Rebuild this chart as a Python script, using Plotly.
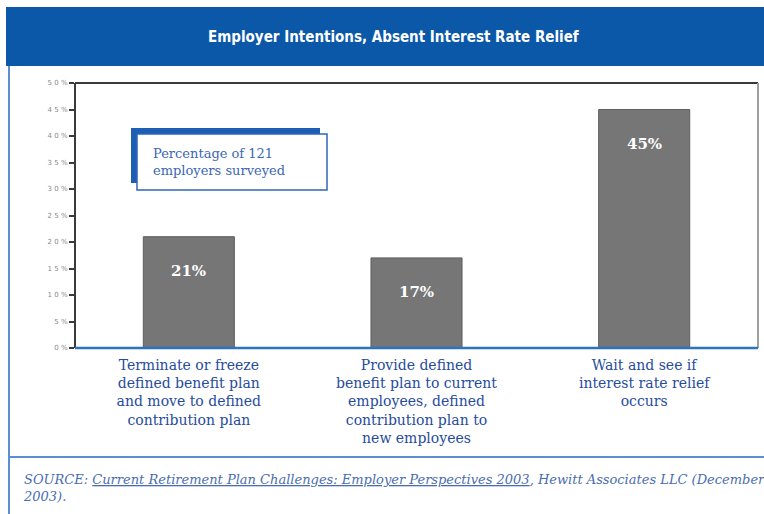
import plotly.graph_objects as go

# ---- data ----
categories = [
    "Terminate or freeze<br>defined benefit plan<br>and move to defined<br>contribution plan",
    "Provide defined<br>benefit plan to current<br>employees, defined<br>contribution plan to<br>new employees",
    "Wait and see if<br>interest rate relief<br>occurs",
]
values = [21, 17, 45]
value_labels = ["21%", "17%", "45%"]
tick_vals = [0, 5, 10, 15, 20, 25, 30, 35, 40, 45, 50]
tick_text = ["0 %", "5 %", "1 0 %", "1 5 %", "2 0 %", "2 5 %", "3 0 %", "3 5 %", "4 0 %", "4 5 %", "5 0 %"]
title_text = "Employer Intentions, Absent Interest Rate Relief"
note_text = "Percentage of 121<br>employers surveyed"
source_text = ("SOURCE: <u>Current Retirement Plan Challenges: Employer Perspectives 2003</u>, "
               "Hewitt Associates LLC (December<br>2003).")

# ---- geometry (pixels in the page) ----
FW, FH = 764, 514
L, R, T, B = 75, 758, 83, 348
PW, PH = R - L, B - T

def xp(px):
    return (px - L) / PW

def yp(py):
    return (B - py) / PH

HEADER = "#0B58A8"
BLUE_TXT = "#264C9C"
SERIF = "DejaVu Serif, Liberation Serif, serif"

fig = go.Figure()
fig.add_trace(go.Bar(
    x=categories, y=values,
    width=0.4,
    marker=dict(color="#767676", line=dict(color="#5E5E5E", width=1)),
    hoverinfo="skip",
))

shapes = [
    dict(type="rect", xref="paper", yref="paper", x0=xp(6), x1=xp(775), y0=yp(66), y1=yp(7),
         fillcolor=HEADER, line=dict(width=0), layer="below"),
    dict(type="line", xref="paper", yref="paper", x0=xp(9), x1=xp(9), y0=yp(66), y1=yp(530),
         line=dict(color="#5B8FD0", width=2)),
    dict(type="line", xref="paper", yref="paper", x0=xp(9), x1=xp(775), y0=yp(457), y1=yp(457),
         line=dict(color="#5B8FD0", width=2)),
    dict(type="line", xref="paper", yref="paper", x0=0, x1=1, y0=1, y1=1,
         line=dict(color="#3A3A3A", width=2)),
    dict(type="line", xref="paper", yref="paper", x0=0, x1=0, y0=0, y1=1,
         line=dict(color="#3A3A3A", width=2)),
    dict(type="line", xref="paper", yref="paper", x0=1, x1=1, y0=0, y1=1,
         line=dict(color="#A0A0A0", width=2)),
    dict(type="line", xref="paper", yref="paper", x0=0, x1=1, y0=0, y1=0,
         line=dict(color="#2E72C2", width=2.5)),
    dict(type="rect", xref="paper", yref="paper", x0=xp(131), x1=xp(320), y0=yp(183), y1=yp(128),
         fillcolor="#1C5FB4", line=dict(width=0)),
    dict(type="rect", xref="paper", yref="paper", x0=xp(137), x1=xp(327), y0=yp(190), y1=yp(134),
         fillcolor="white", line=dict(color="#2E66B8", width=1.5)),
]

annotations = [
    dict(text="<b>" + title_text + "</b>", xref="paper", yref="paper", x=xp(393), y=yp(37),
         xanchor="center", yanchor="middle", showarrow=False,
         font=dict(family="Liberation Sans Narrow, DejaVu Sans Condensed, Arial Narrow, sans-serif",
                   size=15, color="white")),
    dict(text=note_text, xref="paper", yref="paper", x=xp(151), y=yp(162),
         xanchor="left", yanchor="middle", align="left", showarrow=False,
         font=dict(family=SERIF, size=13, color="#3B66B4")),
    dict(text="<i>" + source_text + "</i>", xref="paper", yref="paper", x=xp(21), y=yp(488),
         xanchor="left", yanchor="middle", align="left", showarrow=False,
         font=dict(family=SERIF, size=13, color="#4A6DB0")),
]
for c, v, lab in zip(categories, values, value_labels):
    annotations.append(dict(text="<b>" + lab + "</b>", x=c, y=v, xref="x", yref="y",
                            yshift=-34, showarrow=False,
                            font=dict(family=SERIF, size=15, color="white")))

fig.update_layout(
    width=FW, height=FH,
    margin=dict(l=L, r=FW - R, t=T, b=FH - B, pad=0),
    paper_bgcolor="white", plot_bgcolor="white",
    showlegend=False,
    bargap=0.6,
    shapes=shapes,
    annotations=annotations,
    xaxis=dict(showgrid=False, zeroline=False, showline=False, ticks="",
               ticklabelstandoff=7,
               tickfont=dict(family=SERIF, size=14, color=BLUE_TXT), fixedrange=True),
    yaxis=dict(range=[0, 50], tickvals=tick_vals, ticktext=tick_text, showgrid=False,
               zeroline=False, showline=False, ticks="outside", ticklen=5, tickwidth=2,
               tickcolor="#3A3A3A", tickfont=dict(family="DejaVu Sans", size=7, color="#8A8A8A"),
               fixedrange=True),
)

fig.write_html(
    "out.html",
    config={"displayModeBar": False},
    post_script="document.body.style.margin='0';document.body.style.overflow='hidden';",
)
